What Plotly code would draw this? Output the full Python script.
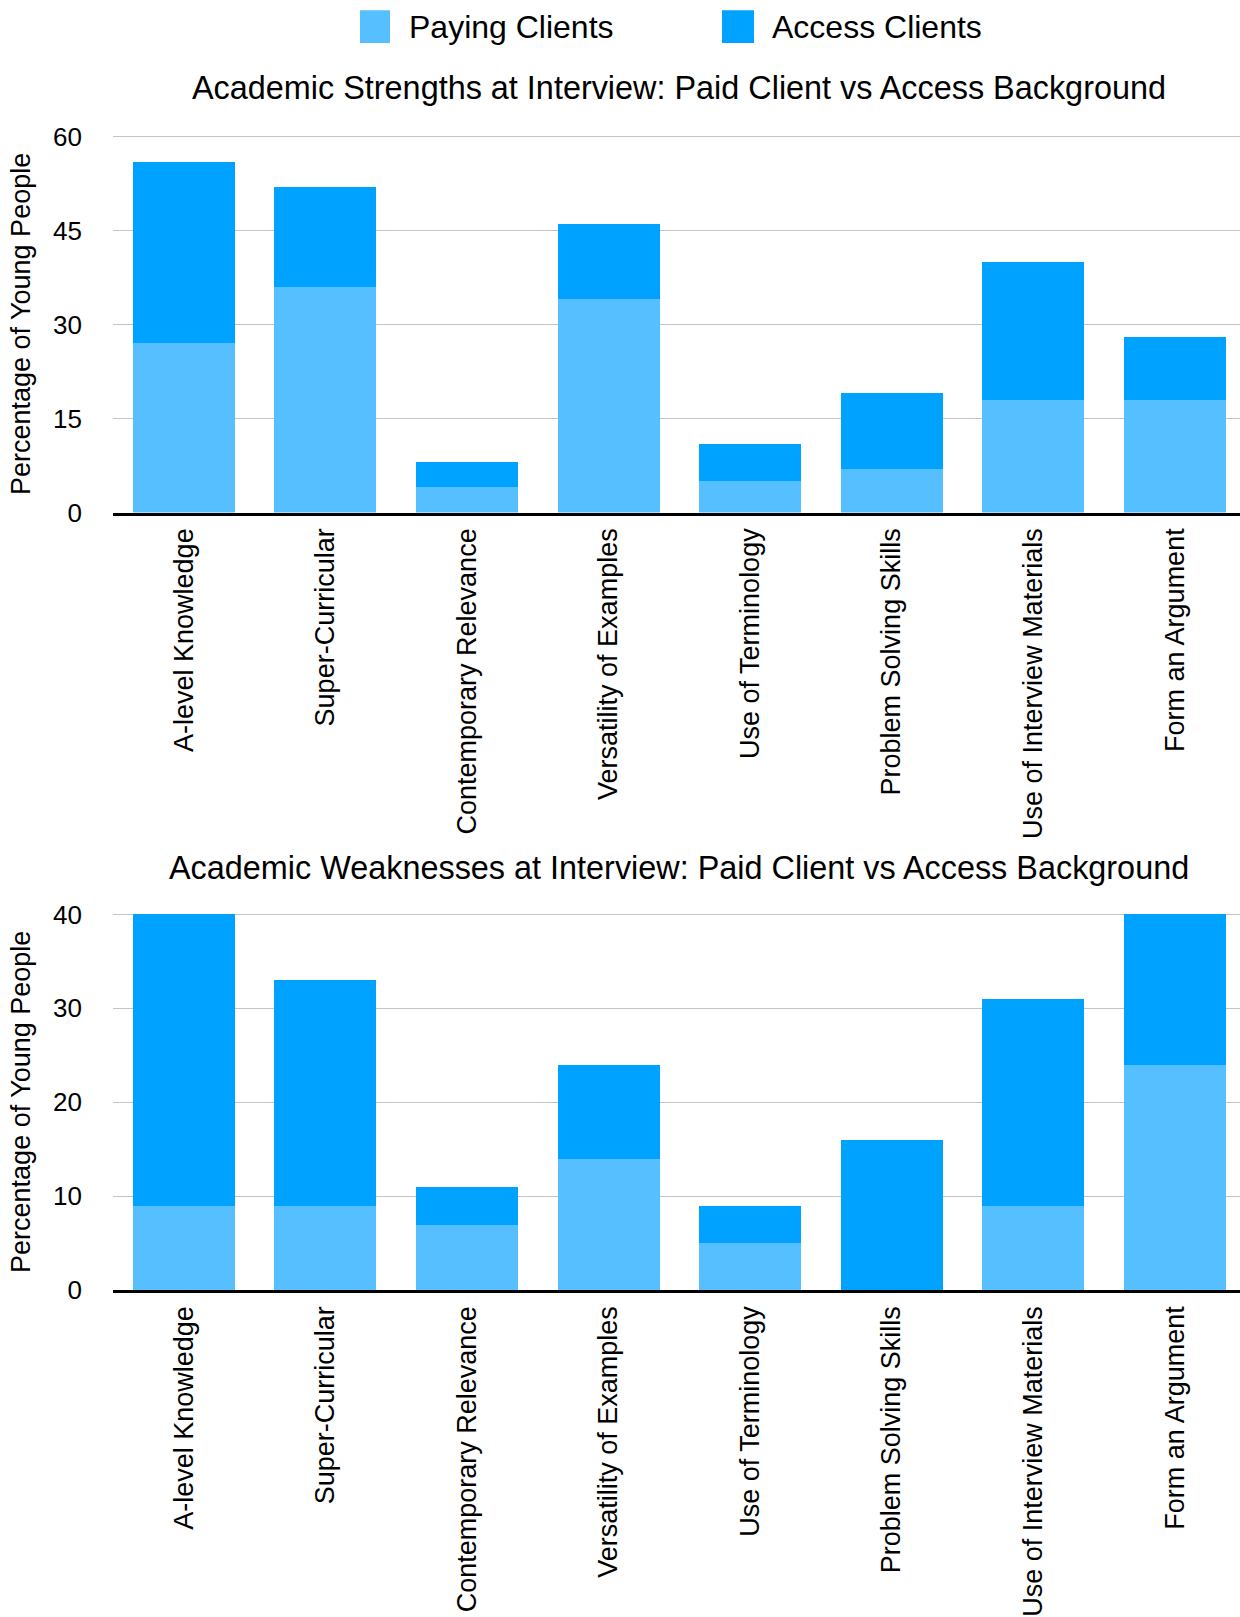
import plotly.graph_objects as go

# Interview feedback categories (shared by both panels)
categories = [
    "A-level Knowledge",
    "Super-Curricular",
    "Contemporary Relevance",
    "Versatility of Examples",
    "Use of Terminology",
    "Problem Solving Skills",
    "Use of Interview Materials",
    "Form an Argument",
]

series_names = ["Paying Clients", "Access Clients"]

# Academic strengths (% of young people)
strengths_paying = [27, 36, 4, 34, 5, 7, 18, 18]
strengths_access = [29, 16, 4, 12, 6, 12, 22, 10]

# Academic weaknesses (% of young people)
weaknesses_paying = [9, 9, 7, 14, 5, 0, 9, 24]
weaknesses_access = [31, 24, 4, 10, 4, 16, 22, 16]

strengths_ticks = [0, 15, 30, 45, 60]
weaknesses_ticks = [0, 10, 20, 30, 40]

titles = [
    "Academic Strengths at Interview: Paid Client vs Access Background",
    "Academic Weaknesses at Interview: Paid Client vs Access Background",
]
y_title = "Percentage of Young People"

colors = ["#56BFFF", "#00A2FF"]
FONT = "Liberation Sans, Arial, Helvetica, sans-serif"

W, H = 1240, 1617


def py(px):
    """Convert a pixel row (from top) into paper y."""
    return 1 - px / H


def px_x(px):
    return px / W


fig = go.Figure()

panels = [
    ("x", "y", strengths_paying, strengths_access),
    ("x2", "y2", weaknesses_paying, weaknesses_access),
]
for xa, ya, paying, access in panels:
    for name, vals, col in zip(series_names, [paying, access], colors):
        fig.add_trace(go.Bar(
            x=categories, y=vals, name=name, marker=dict(color=col, line=dict(width=0)),
            xaxis=xa, yaxis=ya, showlegend=False,
        ))

x_domain = [px_x(113), 1.0]
common_x = dict(
    type="category", range=[-0.5, 7.46], domain=x_domain,
    tickangle=-90, tickfont=dict(family=FONT, size=27, color="#000"),
    showgrid=False, zeroline=False,
    showline=True, linecolor="#000", linewidth=3,
    ticks="", ticklabelstandoff=2,
)
common_y = dict(
    showgrid=True, gridcolor="#c4c4c4", gridwidth=1,
    zeroline=False, showline=False, ticks="",
    tickfont=dict(family=FONT, size=26, color="#000"),
    ticklabelstandoff=30,
    title=dict(text=y_title, font=dict(family=FONT, size=27, color="#000"), standoff=14),
)

# plot-area rows (pixels from top) for each panel
top_lo, top_hi = 509.9, 125.3
bot_lo, bot_hi = 1305.4, 920.9
pad = 0.003  # keep the top gridline inside the plotted range

fig.update_layout(
    width=W, height=H,
    margin=dict(l=0, r=0, t=0, b=0),
    paper_bgcolor="white", plot_bgcolor="white",
    barmode="stack", bargap=0.28,
    showlegend=False,
    font=dict(family=FONT, color="#000"),
    xaxis=dict(common_x, anchor="y"),
    xaxis2=dict(common_x, anchor="y2"),
    yaxis=dict(common_y, anchor="x",
               domain=[py(top_lo), py(top_hi - (top_lo - top_hi) * pad)],
               range=[0, 60 * (1 + pad)], tickvals=strengths_ticks),
    yaxis2=dict(common_y, anchor="x2",
                domain=[py(bot_lo), py(bot_hi - (bot_lo - bot_hi) * pad)],
                range=[0, 40 * (1 + pad)], tickvals=weaknesses_ticks),
)

# Panel titles
for text, ypx in zip(titles, [75.5, 873]):
    fig.add_annotation(
        text=text, xref="paper", yref="paper", x=px_x(679), y=py(ypx),
        xanchor="center", yanchor="middle", showarrow=False,
        font=dict(family=FONT, size=32.4, color="#000"),
    )

# Legend: coloured swatches with labels across the top
legend_items = [(360, 390, 407), (722, 754, 770)]
for (x0, x1, tx), name, col in zip(legend_items, series_names, colors):
    fig.add_shape(
        type="rect", xref="paper", yref="paper",
        x0=px_x(x0), x1=px_x(x1), y0=py(29.7), y1=py(-3.9),
        fillcolor=col, line=dict(width=0),
    )
    fig.add_annotation(
        text=name, xref="paper", yref="paper", x=px_x(tx), y=py(13.4),
        xanchor="left", yanchor="middle", showarrow=False,
        font=dict(family=FONT, size=32, color="#000"),
    )

fig.write_html("out.html")
